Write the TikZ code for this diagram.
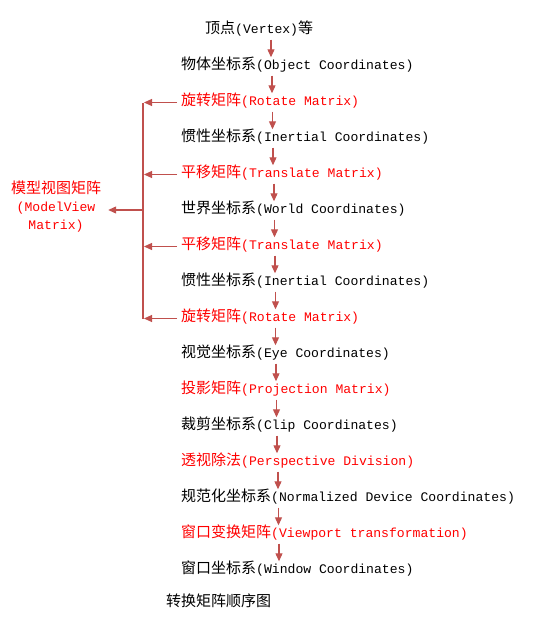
\documentclass[tikz,border=0pt]{standalone}
\usepackage{fontspec}
\setmainfont{Liberation Mono}
\newfontfamily\cjk{Noto Sans CJK SC}
\usetikzlibrary{arrows.meta}
\definecolor{arr}{HTML}{C0504D}
\newcommand{\zh}[1]{{\cjk\fontsize{15}{18}\selectfont #1}}
\tikzset{
  lbl/.style={anchor=base west, inner sep=0pt, text height=13pt, text depth=3pt,
              font=\fontsize{13.1}{18}\selectfont},
  redlbl/.style={lbl, text=red},
  flow/.style={draw=arr, line width=1.1pt, -{Triangle[length=8pt,width=7pt]}},
  brk/.style={draw=arr, line width=1.1pt},
}
\begin{document}
\begin{tikzpicture}[x=1pt,y=-1pt]
\useasboundingbox (0,0) rectangle (549,621);
% main column (baseline = centre + 5.5)
\node[lbl]    (n0)  at (205, 33.5)  {\zh{顶点}(Vertex)\zh{等}};
\node[lbl]    (n1)  at (181, 69.5)  {\zh{物体坐标系}(Object Coordinates)};
\node[redlbl] (r1)  at (181,105.5)  {\zh{旋转矩阵}(Rotate Matrix)};
\node[lbl]    (n2)  at (181,141.5)  {\zh{惯性坐标系}(Inertial Coordinates)};
\node[redlbl] (r2)  at (181,177.5)  {\zh{平移矩阵}(Translate Matrix)};
\node[lbl]    (n3)  at (181,213.5)  {\zh{世界坐标系}(World Coordinates)};
\node[redlbl] (r3)  at (181,249.5)  {\zh{平移矩阵}(Translate Matrix)};
\node[lbl]    (n4)  at (181,285.5)  {\zh{惯性坐标系}(Inertial Coordinates)};
\node[redlbl] (r4)  at (181,321.5)  {\zh{旋转矩阵}(Rotate Matrix)};
\node[lbl]    (n5)  at (181,357.5)  {\zh{视觉坐标系}(Eye Coordinates)};
\node[redlbl] (r5)  at (181,393.5)  {\zh{投影矩阵}(Projection Matrix)};
\node[lbl]    (n6)  at (181,429.5)  {\zh{裁剪坐标系}(Clip Coordinates)};
\node[redlbl] (r6)  at (181,465.5)  {\zh{透视除法}(Perspective Division)};
\node[lbl]    (n7)  at (181,501.5)  {\zh{规范化坐标系}(Normalized Device Coordinates)};
\node[redlbl] (r7)  at (181,537.5)  {\zh{窗口变换矩阵}(Viewport transformation)};
\node[lbl]    (n8)  at (181,573.5)  {\zh{窗口坐标系}(Window Coordinates)};
\node[lbl]    (cap) at (166,606.5)  {\zh{转换矩阵顺序图}};
% left label
\node[align=center, inner sep=0pt, text=red, font=\fontsize{13.1}{18}\selectfont]
  (mv) at (56,207) {\zh{模型视图矩阵}\\(ModelView\\Matrix)};
% vertical flow arrows
\foreach \a/\b/\x in {n0/n1/271, n1/r1/272, r1/n2/272.5, n2/r2/273, r2/n3/274,
                      n3/r3/274.5, r3/n4/275, n4/r4/275.5, r4/n5/275.5, n5/r5/276,
                      r5/n6/276.5, n6/r6/277, r6/n7/278, n7/r7/278.5, r7/n8/279}
  \draw[flow, shorten <=3pt, shorten >=-1pt] (\a.south -| \x,0) -- (\b.north -| \x,0);
% bracket
\coordinate (bx) at (143,0);
\draw[brk] ([yshift=-2pt]bx |- r1.west) -- ([yshift=-2pt]bx |- r4.west);
\foreach \r in {r1,r2,r3,r4}
  \draw[flow] ([xshift=-4pt,yshift=-2pt]\r.west) -- ([xshift=1pt,yshift=-2pt]bx |- \r.west);
\coordinate (mvtip) at ([xshift=7pt]mv.east);
\draw[flow] ([yshift=-1.5pt]bx |- n3.west) -- ([yshift=-1.5pt]mvtip |- n3.west);
\end{tikzpicture}
\end{document}
